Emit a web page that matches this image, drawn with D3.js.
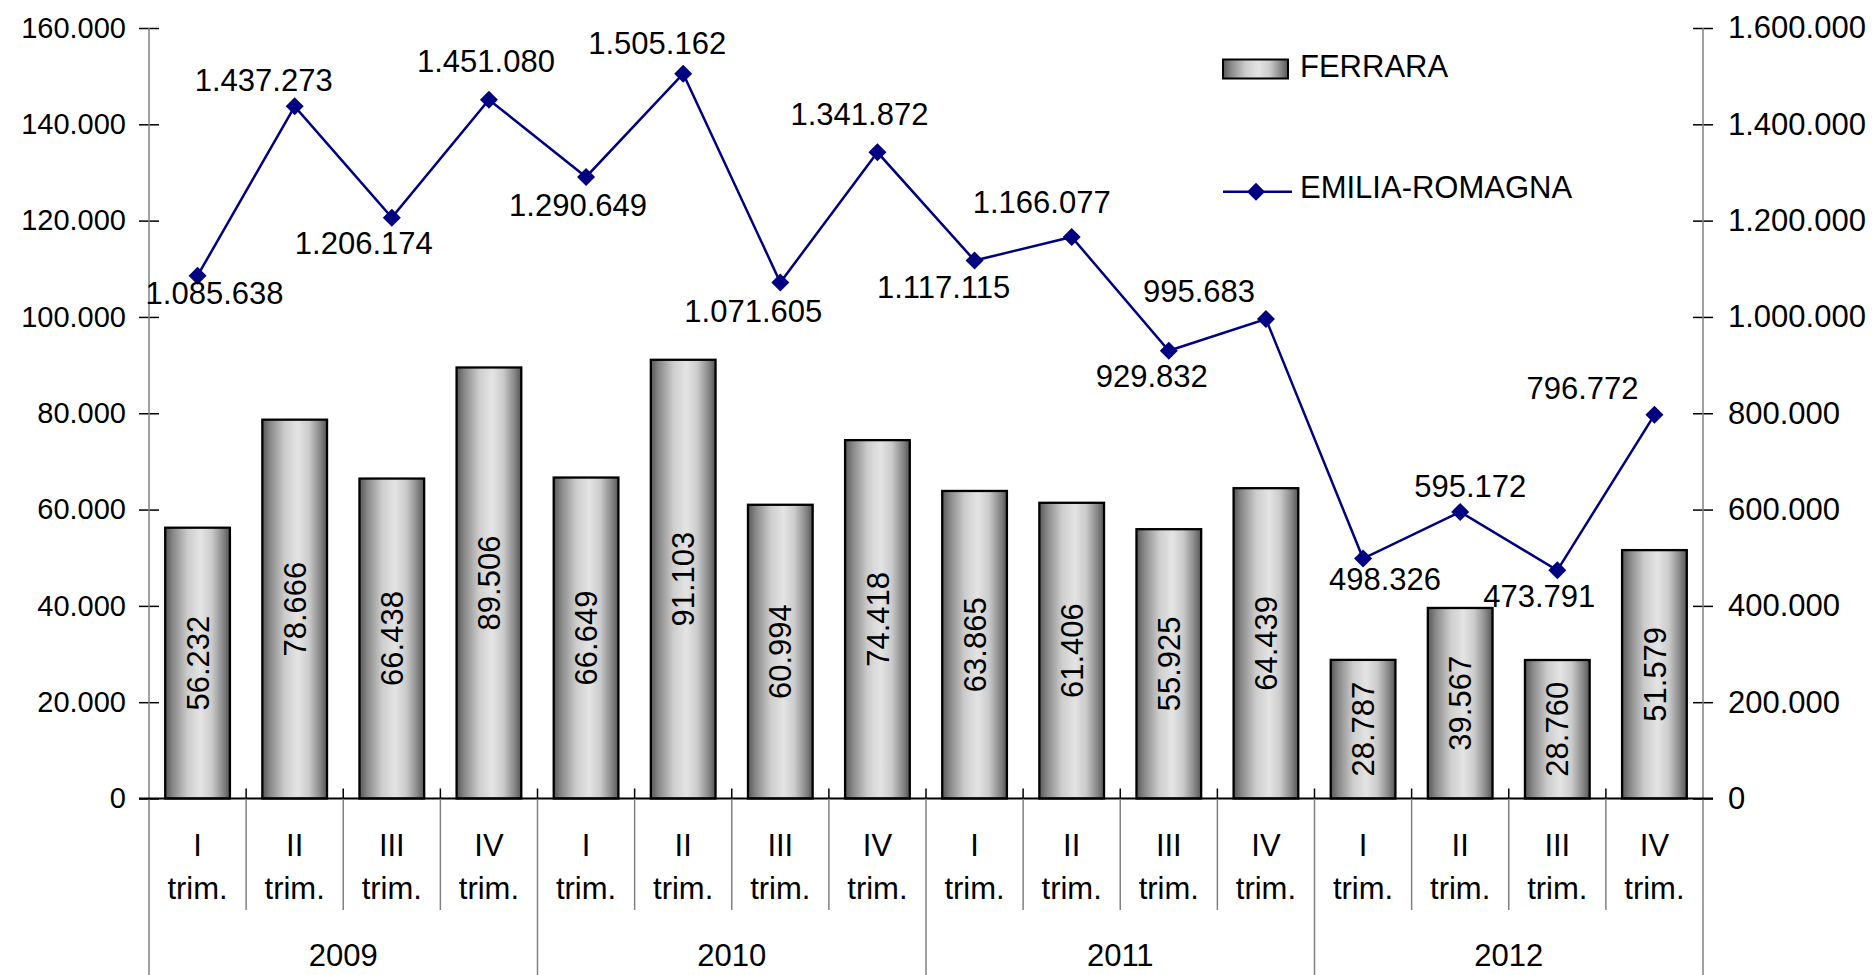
<!DOCTYPE html>
<html>
<head>
<meta charset="utf-8">
<script src="https://cdn.jsdelivr.net/npm/d3@7"></script>
<style>
  html, body { margin: 0; padding: 0; background: #ffffff; }
  svg { display: block; }
  text { font-family: "Liberation Sans", Arial, sans-serif; fill: #000; }
</style>
</head>
<body>
<svg id="chart" width="1874" height="975"></svg>
<script>
// ---------- data ----------
const years = ["2009", "2010", "2011", "2012"];
const quarters = ["I", "II", "III", "IV"];
const quarterSuffix = "trim.";
const ferrara = [56232, 78666, 66438, 89506, 66649, 91103, 60994, 74418,
                 63865, 61406, 55925, 64439, 28787, 39567, 28760, 51579];
const emilia = [1085638, 1437273, 1206174, 1451080, 1290649, 1505162, 1071605, 1341872,
                1117115, 1166077, 929832, 995683, 498326, 595172, 473791, 796772];
const leftTicks = [0, 20000, 40000, 60000, 80000, 100000, 120000, 140000, 160000];
const rightTicks = [0, 200000, 400000, 600000, 800000, 1000000, 1200000, 1400000, 1600000];
const seriesNames = ["FERRARA", "EMILIA-ROMAGNA"];

// label placement for the line labels (layout, not data)
const labelDx = [17, -31, -28, -3, -8, -26, -27, -18, -31, -30, -17, -67, 22, 10, -18, -72];
const labelDy = [17, -26, 25, -39, 28, -31, 28, -38, 26, -35, 25, -28, 20, -26, 26, -27];

// ---------- layout ----------
const FS = 31;
const FS_LEFT = 29;
const plotL = 149, plotR = 1703, plotT = 28, plotB = 798.5;
const svg = d3.select("#chart");

const it = d3.formatLocale({decimal: ",", thousands: ".", grouping: [3], currency: ["€", ""]});
const fmt = it.format(",d");

const cats = [];
years.forEach(y => quarters.forEach(q => cats.push(y + "-" + q)));

const x = d3.scaleBand().domain(cats).range([plotL, plotR]).padding(0);
const yL = d3.scaleLinear().domain([0, 160000]).range([plotB, plotT]);
const yR = d3.scaleLinear().domain([0, 1600000]).range([plotB, plotT]);
const bw = x.bandwidth();
const barW = bw * 0.666;

// gradient
const defs = svg.append("defs");
const grad = defs.append("linearGradient").attr("id", "barGrad")
  .attr("x1", "0%").attr("x2", "100%").attr("y1", "0%").attr("y2", "0%");
[[0, "#585858"], [0.12, "#888888"], [0.35, "#cdcdcd"], [0.55, "#e4e4e4"],
 [0.72, "#cbcbcb"], [0.9, "#858585"], [1, "#555555"]].forEach(s =>
  grad.append("stop").attr("offset", s[0]).attr("stop-color", s[1]));

// ---------- bars ----------
const gBars = svg.append("g");
gBars.selectAll("rect").data(ferrara).join("rect")
  .attr("x", (d, i) => x(cats[i]) + (bw - barW) / 2)
  .attr("y", d => yL(d))
  .attr("width", barW)
  .attr("height", d => yL(0) - yL(d))
  .attr("fill", "url(#barGrad)")
  .attr("stroke", "#000")
  .attr("stroke-width", 2.3);

gBars.selectAll("text").data(ferrara).join("text")
  .attr("transform", (d, i) => {
    const cx = x(cats[i]) + bw / 2;
    const cy = (yL(d) + yL(0)) / 2;
    return `translate(${cx + 0.358 * FS},${cy}) rotate(-90)`;
  })
  .attr("text-anchor", "middle")
  .attr("font-size", FS)
  .text(d => fmt(d));

// ---------- axes ----------
const axisColor = "#808080";
// left axis
const gL = svg.append("g").attr("transform", `translate(${plotL},0)`)
  .call(d3.axisLeft(yL).tickValues(leftTicks).tickFormat(fmt).tickSize(10).tickPadding(13));
gL.select(".domain").remove();
gL.selectAll(".tick line").attr("x1", 10).attr("x2", -10).attr("stroke", "#000").attr("stroke-width", 1.5);
gL.selectAll(".tick text").attr("font-size", FS_LEFT).attr("font-family", null).attr("fill", "#000");
svg.append("line").attr("x1", plotL).attr("x2", plotL).attr("y1", plotT).attr("y2", 975)
  .attr("stroke", axisColor).attr("stroke-width", 1.5);

// right axis
const gR = svg.append("g").attr("transform", `translate(${plotR},0)`)
  .call(d3.axisRight(yR).tickValues(rightTicks).tickFormat(fmt).tickSize(10).tickPadding(15));
gR.select(".domain").remove();
gR.selectAll(".tick line").attr("x1", -10).attr("x2", 10).attr("stroke", "#000").attr("stroke-width", 1.5);
gR.selectAll(".tick text").attr("font-size", FS).attr("font-family", null).attr("fill", "#000");
svg.append("line").attr("x1", plotR).attr("x2", plotR).attr("y1", plotT).attr("y2", 975)
  .attr("stroke", axisColor).attr("stroke-width", 1.5);

// baseline
svg.append("line").attr("x1", plotL - 10).attr("x2", plotR + 10).attr("y1", plotB).attr("y2", plotB)
  .attr("stroke", "#000").attr("stroke-width", 2);

// category separators
const gSep = svg.append("g");
cats.forEach((c, i) => {
  if (i === 0) return;
  const xx = x(c);
  const isYear = i % quarters.length === 0;
  gSep.append("line").attr("x1", xx).attr("x2", xx).attr("y1", plotB).attr("y2", isYear ? 975 : 910)
    .attr("stroke", axisColor).attr("stroke-width", 1.5);
  gSep.append("line").attr("x1", xx).attr("x2", xx).attr("y1", plotB - 10).attr("y2", plotB)
    .attr("stroke", "#000").attr("stroke-width", 1.5);
});

// category labels
const gCat = svg.append("g");
cats.forEach((c, i) => {
  const cx = x(c) + bw / 2;
  gCat.append("text").attr("x", cx).attr("y", 845 + 0.358 * FS)
    .attr("text-anchor", "middle").attr("font-size", FS).text(quarters[i % quarters.length]);
  gCat.append("text").attr("x", cx).attr("y", 888 + 0.358 * FS)
    .attr("text-anchor", "middle").attr("font-size", FS).text(quarterSuffix);
});
years.forEach((y, j) => {
  const x0 = x(cats[j * quarters.length]);
  const x1 = x(cats[j * quarters.length + quarters.length - 1]) + bw;
  gCat.append("text").attr("x", (x0 + x1) / 2).attr("y", 955 + 0.358 * FS)
    .attr("text-anchor", "middle").attr("font-size", FS).text(y);
});

// ---------- line ----------
const lineColor = "#000080";
const diamond = "M0,-9L9,0L0,9L-9,0Z";
const line = d3.line().x((d, i) => x(cats[i]) + bw / 2).y(d => yR(d));
svg.append("path").datum(emilia).attr("d", line)
  .attr("fill", "none").attr("stroke", lineColor).attr("stroke-width", 2.5);
svg.append("g").selectAll("path").data(emilia).join("path")
  .attr("d", diamond)
  .attr("transform", (d, i) => `translate(${x(cats[i]) + bw / 2},${yR(d)})`)
  .attr("fill", lineColor);
svg.append("g").selectAll("text").data(emilia).join("text")
  .attr("x", (d, i) => x(cats[i]) + bw / 2 + labelDx[i])
  .attr("y", (d, i) => yR(d) + labelDy[i] + 0.358 * FS)
  .attr("text-anchor", "middle").attr("font-size", FS)
  .text(d => fmt(d));

// ---------- legend ----------
const gLeg = svg.append("g");
gLeg.append("rect").attr("x", 1223).attr("y", 59.5).attr("width", 65).attr("height", 19)
  .attr("fill", "url(#barGrad)").attr("stroke", "#000").attr("stroke-width", 2);
gLeg.append("text").attr("x", 1300).attr("y", 66 + 0.358 * FS).attr("font-size", FS).text(seriesNames[0]);
gLeg.append("line").attr("x1", 1223).attr("x2", 1292).attr("y1", 191.7).attr("y2", 191.7)
  .attr("stroke", lineColor).attr("stroke-width", 2.5);
gLeg.append("path").attr("d", diamond).attr("transform", "translate(1256,191.7)").attr("fill", lineColor);
gLeg.append("text").attr("x", 1300).attr("y", 187 + 0.358 * FS).attr("font-size", FS).text(seriesNames[1]);
</script>
</body>
</html>
